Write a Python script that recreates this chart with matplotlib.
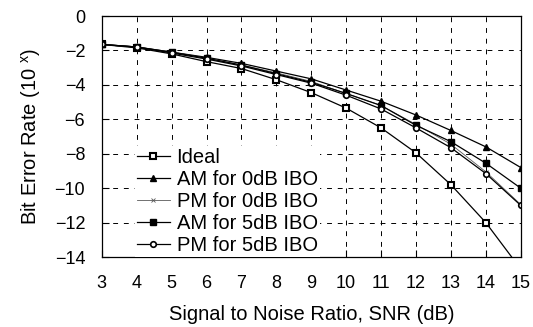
import matplotlib
matplotlib.use('Agg')
import matplotlib.pyplot as plt
import numpy as np

plt.rcParams['font.family'] = ['Liberation Sans', 'DejaVu Sans']
plt.rcParams['mathtext.fontset'] = 'custom'
plt.rcParams['mathtext.rm'] = 'Liberation Sans'

# data (exponent of bit error rate)
snr = [3, 4, 5, 6, 7, 8, 9, 10, 11, 12, 13, 14, 15]
ideal = [-1.65, -1.85, -2.2, -2.65, -3.05, -3.7, -4.45, -5.35, -6.5, -7.95, -9.8, -12.0, -14.7]
am_0db = [-1.65, -1.8, -2.1, -2.4, -2.75, -3.2, -3.65, -4.3, -4.95, -5.75, -6.65, -7.6, -8.8]
pm_0db = [-1.65, -1.8, -2.1, -2.45, -2.85, -3.3, -3.8, -4.5, -5.2, -6.3, -7.45, -9.05, -10.95]
am_5db = [-1.65, -1.8, -2.1, -2.45, -2.85, -3.35, -3.85, -4.5, -5.2, -6.35, -7.3, -8.55, -10.0]
pm_5db = [-1.65, -1.8, -2.15, -2.5, -2.9, -3.4, -3.9, -4.6, -5.4, -6.5, -7.65, -9.15, -11.0]

labels = ['Ideal', 'AM for 0dB IBO', 'PM for 0dB IBO', 'AM for 5dB IBO', 'PM for 5dB IBO']
yticks = [-14, -12, -10, -8, -6, -4, -2, 0]

fig = plt.figure(figsize=(5.33, 3.27), dpi=100)
ax = fig.add_axes([0.191, 0.214, 0.786, 0.737])

ax.plot(snr, ideal, color='k', lw=0.9, marker='s', ms=5, mfc='white', mec='k', mew=1.5, label=labels[0])
ax.plot(snr, am_0db, color='k', lw=0.9, marker='^', ms=5, mfc='k', mec='k', label=labels[1])
ax.plot(snr, pm_0db, color='0.35', lw=0.6, marker='x', ms=3, mew=0.6, label=labels[2])
ax.plot(snr, am_5db, color='k', lw=0.9, marker='s', ms=4.5, mfc='k', mec='k', label=labels[3])
ax.plot(snr, pm_5db, color='k', lw=0.9, marker='o', ms=4, mfc='white', mec='k', mew=1.2, label=labels[4])

ax.set_xlim(3, 15)
ax.set_ylim(-14, 0)
ax.set_xticks(snr)
ax.set_yticks(yticks)
ax.set_yticklabels(['\u2212%d' % -v if v < 0 else '%d' % v for v in yticks])

# dashed grid inside the frame
for xv in snr[1:-1]:
    ax.axvline(xv, color='k', lw=0.7, ls=(0, (5, 6)), zorder=0)
for yv in yticks[1:-1]:
    ax.axhline(yv, color='k', lw=0.7, ls=(0, (5, 6)), zorder=0)

ax.tick_params(direction='in', length=5, width=0.8, labelsize=13)
ax.tick_params(axis='x', pad=13)
ax.tick_params(axis='y', pad=12)
for s in ax.spines.values():
    s.set_linewidth(0.9)

ax.set_xlabel('Signal to Noise Ratio, SNR (dB)', fontsize=14.5, labelpad=9)
ax.set_ylabel('Bit Error Rate (10 $^{\\mathrm{x}}$)', fontsize=14.5, labelpad=8)

leg = ax.legend(loc='lower left', bbox_to_anchor=(0.08, 0.0), fontsize=14.5,
                frameon=True, facecolor='white', edgecolor='none', framealpha=1,
                handlelength=1.6, handletextpad=0.35, labelspacing=0.15,
                borderpad=0.1, borderaxespad=0, fancybox=False)

fig.savefig('out.png', dpi=100)
